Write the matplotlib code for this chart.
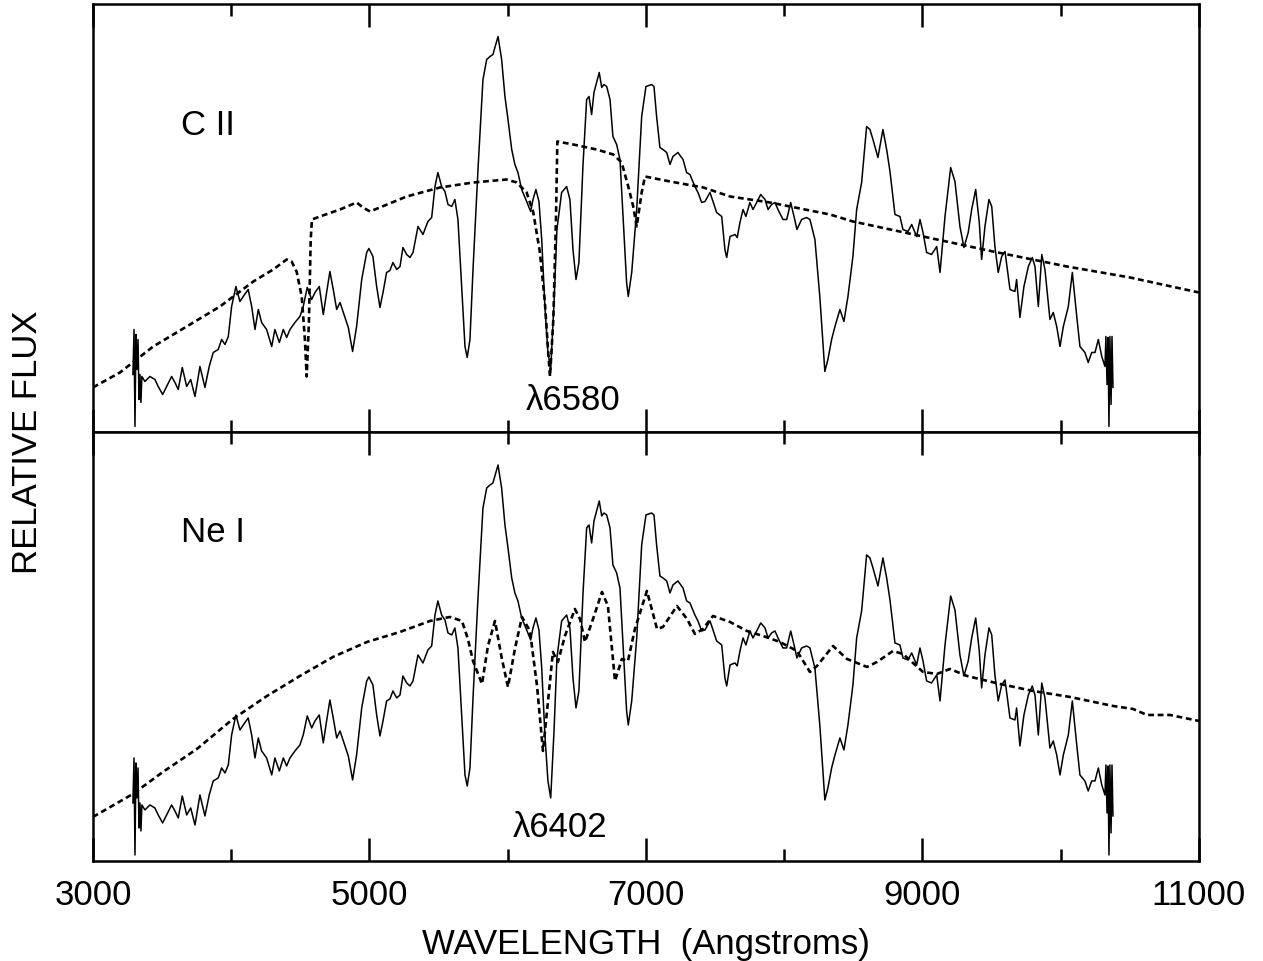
import numpy as np
import matplotlib
matplotlib.use('Agg')
import matplotlib.pyplot as plt
from matplotlib.ticker import FixedLocator, NullFormatter

plt.rcParams['font.family'] = ['Liberation Sans', 'DejaVu Sans']

# observed spectrum (same in both panels)
obs_wave = [3289, 3297, 3304, 3311, 3318, 3326, 3333, 3340, 3347, 3354,
            3376, 3412, 3448, 3472, 3504, 3533, 3569, 3593, 3617, 3646,
            3678, 3707, 3738, 3774, 3810, 3841, 3870, 3906, 3931, 3955,
            3979, 4003, 4034, 4063, 4087, 4123, 4148, 4172, 4196, 4220,
            4256, 4293, 4316, 4348, 4377, 4401, 4425, 4461, 4497, 4521,
            4550, 4582, 4606, 4637, 4666, 4690, 4714, 4738, 4763, 4787,
            4811, 4847, 4878, 4907, 4944, 4980, 4996, 5025, 5052, 5076,
            5098, 5124, 5148, 5170, 5197, 5221, 5242, 5269, 5293, 5315,
            5351, 5387, 5423, 5450, 5474, 5495, 5522, 5546, 5568, 5595,
            5618, 5640, 5667, 5691, 5707, 5727, 5749, 5785, 5821, 5848,
            5872, 5893, 5930, 5956, 5980, 6002, 6029, 6052, 6074, 6101,
            6137, 6166, 6183, 6204, 6226, 6246, 6269, 6291, 6311, 6335,
            6356, 6390, 6426, 6450, 6472, 6494, 6515, 6544, 6571, 6588,
            6607, 6624, 6643, 6662, 6680, 6696, 6716, 6740, 6761, 6788,
            6812, 6834, 6860, 6872, 6897, 6933, 6969, 7000, 7041, 7058,
            7077, 7101, 7123, 7150, 7174, 7195, 7231, 7268, 7294, 7318,
            7354, 7376, 7403, 7427, 7463, 7485, 7511, 7548, 7571, 7584,
            7608, 7644, 7660, 7680, 7702, 7723, 7752, 7774, 7801, 7830,
            7861, 7883, 7909, 7933, 7955, 7991, 8018, 8047, 8071, 8092,
            8126, 8162, 8186, 8222, 8258, 8294, 8316, 8343, 8367, 8403,
            8432, 8461, 8497, 8524, 8560, 8596, 8620, 8642, 8678, 8714,
            8741, 8765, 8801, 8837, 8859, 8895, 8922, 8958, 8982, 9004,
            9030, 9066, 9103, 9127, 9163, 9204, 9235, 9271, 9300, 9331,
            9356, 9385, 9411, 9428, 9452, 9481, 9501, 9524, 9548, 9573,
            9597, 9633, 9669, 9681, 9705, 9734, 9766, 9794, 9814, 9838,
            9863, 9886, 9922, 9946, 9971, 9995, 10019, 10055, 10084, 10116,
            10139, 10175, 10199, 10224, 10248, 10272, 10297, 10320,
            10327, 10335, 10342, 10349, 10356, 10364, 10371, 10378]
obs_flux = [0.58, 1.03, 0.06, 0.98, 0.63, 0.93, 0.33, 0.58, 0.30, 0.56,
            0.51, 0.56, 0.53, 0.46, 0.38, 0.46, 0.56, 0.50, 0.43, 0.65,
            0.46, 0.53, 0.36, 0.66, 0.45, 0.66, 0.80, 0.83, 0.93, 0.88,
            0.96, 1.26, 1.46, 1.31, 1.36, 1.43, 1.26, 1.03, 1.23, 1.10,
            1.03, 0.86, 1.03, 0.90, 1.03, 0.95, 1.03, 1.10, 1.16, 1.26,
            1.45, 1.33, 1.40, 1.46, 1.18, 1.40, 1.61, 1.43, 1.23, 1.30,
            1.20, 1.05, 0.81, 1.06, 1.53, 1.80, 1.84, 1.76, 1.46, 1.25,
            1.40, 1.60, 1.62, 1.70, 1.63, 1.66, 1.85, 1.78, 1.75, 1.80,
            2.06, 1.98, 2.11, 2.15, 2.46, 2.60, 2.46, 2.41, 2.28, 2.26,
            2.33, 2.13, 1.46, 0.86, 0.75, 0.93, 1.63, 2.63, 3.53, 3.73,
            3.76, 3.78, 3.96, 3.73, 3.36, 3.13, 2.83, 2.68, 2.60, 2.43,
            2.31, 2.21, 2.33, 2.43, 2.31, 1.93, 1.26, 0.80, 0.63, 1.30,
            2.03, 2.40, 2.46, 2.33, 1.83, 1.53, 1.70, 2.66, 3.33, 3.36,
            3.18, 3.40, 3.50, 3.60, 3.45, 3.48, 3.46, 3.33, 2.96, 2.88,
            2.73, 2.16, 1.50, 1.36, 1.60, 2.23, 3.16, 3.46, 3.48, 3.46,
            3.16, 2.85, 2.83, 2.80, 2.68, 2.76, 2.80, 2.73, 2.60, 2.58,
            2.46, 2.40, 2.30, 2.31, 2.40, 2.31, 2.20, 2.16, 1.83, 1.75,
            1.96, 1.98, 1.95, 2.10, 2.23, 2.16, 2.30, 2.23, 2.30, 2.38,
            2.33, 2.23, 2.28, 2.30, 2.23, 2.13, 2.13, 2.30, 2.16, 2.03,
            2.13, 2.15, 2.13, 1.93, 1.35, 0.61, 0.73, 0.93, 1.06, 1.23,
            1.11, 1.36, 1.76, 2.23, 2.50, 3.06, 3.03, 2.93, 2.75, 3.03,
            2.83, 2.61, 2.18, 2.16, 2.03, 2.01, 2.08, 1.96, 2.13, 2.00,
            1.80, 1.78, 1.86, 1.60, 2.16, 2.65, 2.51, 2.06, 1.85, 2.00,
            2.23, 2.43, 2.10, 1.73, 2.06, 2.33, 2.26, 1.86, 1.60, 1.76,
            1.81, 1.43, 1.41, 1.53, 1.15, 1.46, 1.66, 1.75, 1.66, 1.26,
            1.78, 1.63, 1.13, 1.20, 1.06, 0.86, 1.06, 1.26, 1.60, 1.16,
            0.86, 0.80, 0.70, 0.80, 0.80, 0.93, 0.76, 0.66,
            0.96, 0.48, 0.95, 0.06, 0.96, 0.28, 0.96, 0.45]

# synthetic spectrum with C II
cii_wave = [3000, 3195, 3436, 3678, 3919, 4160, 4304, 4401, 4437, 4473,
            4510, 4533, 4546, 4562, 4575, 4584, 4642, 4787, 4907, 4953,
            5004, 5269, 5510, 5751, 5992, 6065, 6137, 6185, 6233, 6269,
            6293, 6306, 6330, 6349, 6359, 6474, 6643, 6764, 6824, 6872,
            6908, 6933, 6969, 6993, 7174, 7415, 7608, 7897, 8331, 8497,
            9004, 9510, 10045, 10501, 11000]
cii_flux = [0.45, 0.60, 0.86, 1.06, 1.26, 1.51, 1.63, 1.73, 1.71, 1.61,
            1.36, 0.93, 0.56, 1.10, 1.93, 2.13, 2.16, 2.23, 2.30, 2.25,
            2.21, 2.36, 2.45, 2.50, 2.53, 2.50, 2.40, 2.20, 1.80, 1.30,
            0.80, 0.56, 1.13, 2.13, 2.91, 2.88, 2.83, 2.78, 2.70, 2.46,
            2.26, 2.06, 2.40, 2.56, 2.51, 2.45, 2.36, 2.30, 2.18, 2.11,
            1.96, 1.81, 1.66, 1.55, 1.40]

# synthetic spectrum with Ne I
nei_wave = [3000, 3289, 3506, 3752, 4013, 4259, 4497, 4736, 4982, 5221,
            5438, 5582, 5669, 5712, 5749, 5814, 5857, 5908, 5958, 6002,
            6052, 6103, 6161, 6212, 6255, 6291, 6327, 6363, 6414, 6486,
            6523, 6559, 6617, 6682, 6725, 6776, 6826, 6870, 6920, 7007,
            7080, 7123, 7224, 7297, 7354, 7412, 7485, 7608, 7730, 7846,
            7969, 8092, 8186, 8237, 8353, 8454, 8599, 8671, 8787, 8859,
            9004, 9105, 9199, 9322, 9561, 9799, 10067, 10378, 10523, 10624,
            10790, 11000]
nei_flux = [0.44, 0.67, 0.89, 1.12, 1.42, 1.65, 1.85, 2.04, 2.19, 2.29,
            2.40, 2.44, 2.40, 2.22, 2.00, 1.77, 2.15, 2.40, 2.02, 1.74,
            2.12, 2.44, 2.30, 1.75, 1.10, 1.59, 2.09, 1.99, 2.25, 2.52,
            2.42, 2.19, 2.42, 2.69, 2.55, 1.80, 2.02, 2.00, 2.32, 2.70,
            2.32, 2.34, 2.55, 2.42, 2.27, 2.32, 2.45, 2.39, 2.30, 2.25,
            2.19, 2.10, 1.89, 1.95, 2.15, 2.02, 1.94, 1.99, 2.10, 2.07,
            1.89, 1.87, 1.92, 1.85, 1.77, 1.70, 1.64, 1.55, 1.52, 1.46,
            1.46, 1.40]

major_ticks = [3000, 5000, 7000, 9000, 11000]
minor_ticks = [4000, 6000, 8000, 10000]

fig, (ax1, ax2) = plt.subplots(2, 1, figsize=(12.63, 9.62), dpi=100, sharex=True)
fig.subplots_adjust(left=0.0736, right=0.9493, top=0.9948, bottom=0.104, hspace=0)

dash = (0, (2.2, 1.4))
ax1.plot(obs_wave, obs_flux, color='black', lw=1.1)
ax1.plot(cii_wave, cii_flux, color='black', lw=1.9, linestyle=dash)
ax2.plot(obs_wave, obs_flux, color='black', lw=1.1)
ax2.plot(nei_wave, nei_flux, color='black', lw=1.9, linestyle=dash)

for ax in (ax1, ax2):
    ax.set_xlim(3000, 11000)
    ax.set_ylim(0, 4.285)
    ax.set_yticks([])
    ax.xaxis.set_major_locator(FixedLocator(major_ticks))
    ax.xaxis.set_minor_locator(FixedLocator(minor_ticks))
    ax.tick_params(axis='x', which='both', direction='in', top=True, bottom=True,
                   width=1.8, labelsize=25, pad=12)
    ax.tick_params(axis='x', which='major', length=16.5)
    ax.tick_params(axis='x', which='minor', length=8.6)
    ax.xaxis.set_minor_formatter(NullFormatter())
    for s in ax.spines.values():
        s.set_linewidth(1.8)

ax1.text(3640, 2.98, 'C II', fontsize=25, ha='left', va='baseline')
ax1.text(6472, 0.23, '\u03bb6580', fontsize=25, ha='center', va='baseline')
ax2.text(3640, 3.20, 'Ne I', fontsize=25, ha='left', va='baseline')
ax2.text(6378, 0.25, '\u03bb6402', fontsize=25, ha='center', va='baseline')

ax2.set_xlabel('WAVELENGTH  (Angstroms)', fontsize=25, labelpad=12)
fig.text(0.022, 0.54, 'RELATIVE FLUX', fontsize=25, rotation=90, ha='center', va='center')

fig.savefig('out.png', dpi=100)
